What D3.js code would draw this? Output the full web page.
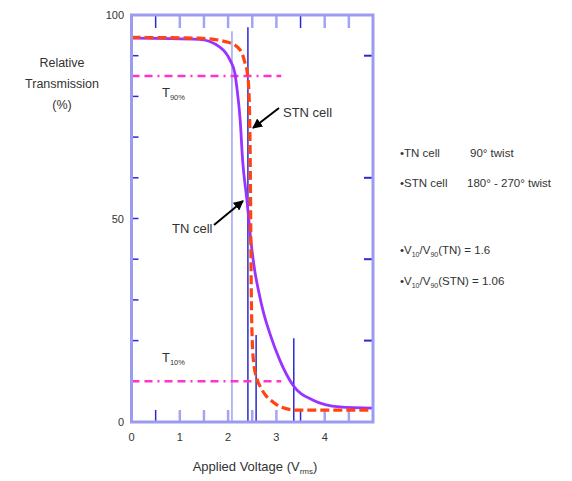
<!DOCTYPE html>
<html>
<head>
<meta charset="utf-8">
<script src="https://cdn.jsdelivr.net/npm/d3@7"></script>
<style>
  body { margin: 0; background: #fff; }
  svg text { font-family: "Liberation Sans Narrow", "Liberation Sans", Arial, sans-serif; fill: #333; }
</style>
</head>
<body>
<svg id="canvas"></svg>
<script>
// TN cell curve (applied voltage, relative transmission %)
const tnVolts = [0, 1.4, 1.83, 2.04, 2.14, 2.18, 2.25, 2.30, 2.39, 2.47, 2.55, 2.64, 2.72, 2.86, 3.07, 3.34, 3.75, 4.31, 5];
const tnTrans = [94.3, 94, 92.1, 88.9, 85.7, 82.3, 74.2, 64.4, 54.5, 44.7, 37.3, 31.7, 27.5, 21.9, 15.2, 9.1, 5.4, 3.7, 3.4];
// STN cell curve
const stnVolts = [0, 1.4, 2.0, 2.25, 2.35, 2.41, 2.44, 2.46, 2.47, 2.48, 2.5, 2.53, 2.6, 2.67, 2.78, 2.88, 3.09, 3.44, 5];
const stnTrans = [94.5, 94.3, 93.3, 91.4, 88.2, 84.8, 78, 62, 46, 32, 20, 14.5, 10.5, 8.6, 6.5, 5.4, 3.7, 2.9, 2.9];
// vertical voltage markers: [voltage, top %, dark?]
const markerVolts = [2.08, 2.41, 2.58, 3.36];
const markerTops = [96, 97, 21.4, 20.6];
const markerDark = [false, true, true, true];
// threshold lines
const thresholdVals = [85, 10];
const thresholdEnd = 3.1;
// ticks
const xTickLabels = [0, 1, 2, 3, 4];
const xMinorTicks = [0.5, 1, 1.5, 2, 2.5, 3, 3.5, 4, 4.5];
const xMinorDark = [0.5, 3.5];
const yTickLabels = [0, 50, 100];
const yLeftTicks = [10, 20, 30, 40, 50, 60, 70, 80, 90];
const yRightTicks = [20, 40, 60, 90];

const width = 572, height = 481;
const svg = d3.select("#canvas").attr("width", width).attr("height", height);
svg.append("rect").attr("width", width).attr("height", height).attr("fill", "#fff");

const x = d3.scaleLinear().domain([0, 5]).range([131.5, 373]);
const y = d3.scaleLinear().domain([0, 100]).range([422, 15]);

const frameColor = "#9b9bf0";
const darkBlue = "#2a2ad0";

// minor ticks along bottom and top (inside the frame)
xMinorTicks.forEach(v => {
  const dark = xMinorDark.includes(v);
  const col = dark ? darkBlue : "#a4a4f2";
  const w = dark ? 1.5 : 2.5;
  svg.append("line").attr("x1", x(v)).attr("x2", x(v)).attr("y1", y(0)).attr("y2", y(0) - 12)
    .attr("stroke", col).attr("stroke-width", w);
  svg.append("line").attr("x1", x(v)).attr("x2", x(v)).attr("y1", y(100)).attr("y2", y(100) + 13)
    .attr("stroke", col).attr("stroke-width", w);
});
yLeftTicks.forEach(v => {
  svg.append("line").attr("x1", x(0)).attr("x2", x(0) + 7).attr("y1", y(v)).attr("y2", y(v))
    .attr("stroke", darkBlue).attr("stroke-width", 1.5);
});
yRightTicks.forEach(v => {
  svg.append("line").attr("x1", x(5)).attr("x2", x(5) - 9).attr("y1", y(v)).attr("y2", y(v))
    .attr("stroke", darkBlue).attr("stroke-width", 2);
});

// vertical marker lines
markerVolts.forEach((v, i) => {
  svg.append("line").attr("x1", x(v)).attr("x2", x(v)).attr("y1", y(markerTops[i])).attr("y2", y(0))
    .attr("stroke", markerDark[i] ? darkBlue : "#8a8aee")
    .attr("stroke-width", markerDark[i] ? 1.5 : 1.2);
});

// threshold dash-dot lines
thresholdVals.forEach(t => {
  svg.append("line").attr("x1", x(0)).attr("x2", x(thresholdEnd)).attr("y1", y(t)).attr("y2", y(t))
    .attr("stroke", "#ff33cc").attr("stroke-width", 2.5).attr("stroke-dasharray", "8,5,8,5,2,5");
});

// curves
const line = d3.line().x(d => x(d[0])).y(d => y(d[1])).curve(d3.curveMonotoneX);
svg.append("path").datum(tnVolts.map((v, i) => [v, tnTrans[i]]))
  .attr("d", line).attr("fill", "none").attr("stroke", "#9933ff").attr("stroke-width", 2.8);
svg.append("path").datum(stnVolts.map((v, i) => [v, stnTrans[i]]))
  .attr("d", line).attr("fill", "none").attr("stroke", "#ff4411").attr("stroke-width", 3.2)
  .attr("stroke-dasharray", "9,4");

// frame
svg.append("rect").attr("x", x(0)).attr("y", y(100)).attr("width", x(5) - x(0)).attr("height", y(0) - y(100))
  .attr("fill", "none").attr("stroke", frameColor).attr("stroke-width", 3);

// tick labels
svg.selectAll(".xl").data(xTickLabels).enter().append("text")
  .attr("x", d => x(d)).attr("y", 441).attr("text-anchor", "middle").attr("font-size", 11).text(d => d);
svg.selectAll(".yl").data(yTickLabels).enter().append("text")
  .attr("x", 124).attr("y", d => y(d) + 4).attr("text-anchor", "end").attr("font-size", 11).text(d => d);

// axis titles
const xt = svg.append("text").attr("x", 255).attr("y", 471).attr("text-anchor", "middle").attr("font-size", 13);
xt.append("tspan").text("Applied Voltage (V");
xt.append("tspan").attr("font-size", 8).attr("dy", 3).text("rms");
xt.append("tspan").attr("dy", -3).text(")");
["Relative", "Transmission", "(%)"].forEach((s, i) => {
  svg.append("text").attr("x", 62).attr("y", 67 + i * 21).attr("text-anchor", "middle").attr("font-size", 12.5).text(s);
});

// threshold labels
[["90%", 85, 97], ["10%", 10, 362]].forEach(([sub, t, yy]) => {
  const tx = svg.append("text").attr("x", 162).attr("y", yy).attr("font-size", 13);
  tx.append("tspan").text("T");
  tx.append("tspan").attr("font-size", 7.5).attr("dy", 3).text(sub);
});

// arrows
const defs = svg.append("defs");
defs.append("marker").attr("id", "ah").attr("viewBox", "0 0 10 10").attr("refX", 9).attr("refY", 5)
  .attr("markerWidth", 5).attr("markerHeight", 5).attr("orient", "auto")
  .append("path").attr("d", "M0,0 L10,5 L0,10 Z").attr("fill", "#000");
svg.append("line").attr("x1", 279).attr("y1", 108).attr("x2", 253).attr("y2", 128)
  .attr("stroke", "#000").attr("stroke-width", 2).attr("marker-end", "url(#ah)");
svg.append("line").attr("x1", 214).attr("y1", 225).attr("x2", 243).attr("y2", 201)
  .attr("stroke", "#000").attr("stroke-width", 2).attr("marker-end", "url(#ah)");
svg.append("text").attr("x", 283).attr("y", 117).attr("font-size", 13).text("STN cell");
svg.append("text").attr("x", 172).attr("y", 233).attr("font-size", 13).text("TN cell");

// right-hand notes
const notes = svg.append("g").attr("font-size", 11.5);
const n1 = notes.append("text").attr("x", 400).attr("y", 157);
n1.append("tspan").text("•TN cell");
n1.append("tspan").attr("x", 470).text("90° twist");
const n2 = notes.append("text").attr("x", 400).attr("y", 187);
n2.append("tspan").text("•STN cell");
n2.append("tspan").attr("x", 467).text("180° - 270° twist");
[["TN) = 1.6", 254], ["STN) = 1.06", 285]].forEach(([tail, yy]) => {
  const t = notes.append("text").attr("x", 400).attr("y", yy);
  t.append("tspan").text("•V");
  t.append("tspan").attr("font-size", 7).attr("dy", 3).text("10");
  t.append("tspan").attr("dy", -3).text("/V");
  t.append("tspan").attr("font-size", 7).attr("dy", 3).text("90");
  t.append("tspan").attr("dy", -3).text("(" + tail);
});
</script>
</body>
</html>
